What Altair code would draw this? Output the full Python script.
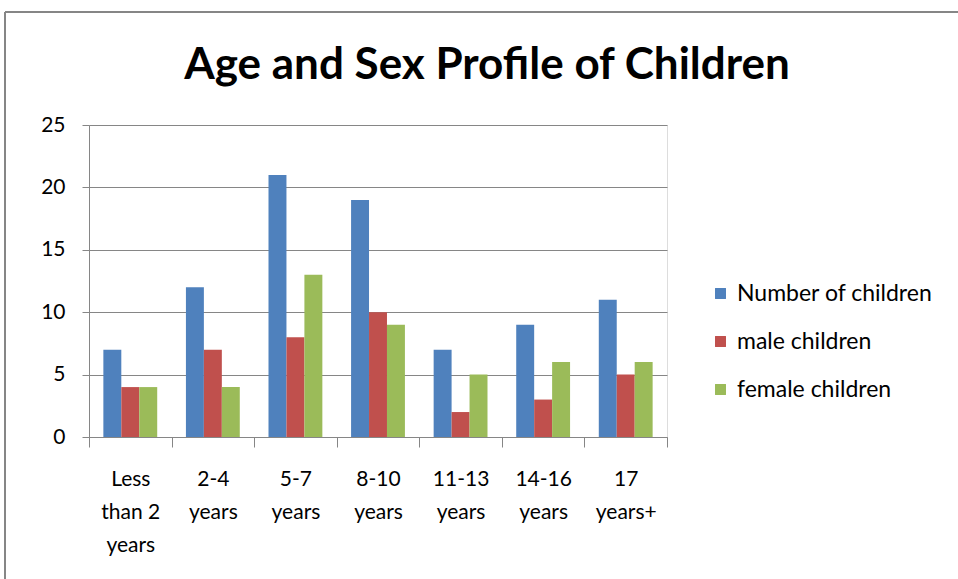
import altair as alt
import pandas as pd

categories = ["Less\nthan 2\nyears", "2-4\nyears", "5-7\nyears", "8-10\nyears",
              "11-13\nyears", "14-16\nyears", "17\nyears+"]
series = ["Number of children", "male children", "female children"]
number_of_children = [7, 12, 21, 19, 7, 9, 11]
male_children = [4, 7, 8, 10, 2, 3, 5]
female_children = [4, 4, 13, 9, 5, 6, 6]
colors = ["#4F81BD", "#C0504D", "#9BBB59"]
y_ticks = [0, 5, 10, 15, 20, 25]
title_text = "Age and Sex Profile of Children"

rows = []
for vals, s in zip([number_of_children, male_children, female_children], series):
    for c, v in zip(categories, vals):
        rows.append({"age": c, "series": s, "value": v})
df = pd.DataFrame(rows)

FONT = "Lato"
GRAY = "#868686"

bars = alt.Chart(df).mark_bar().encode(
    x=alt.X("age:N", sort=categories, title=None,
            scale=alt.Scale(paddingInner=0, paddingOuter=0),
            axis=alt.Axis(labelExpr="split(datum.label, '\\n')", labelAngle=0,
                          labelFont=FONT, labelFontSize=21, labelColor="#000",
                          labelLineHeight=33, labelPadding=21, labelBaseline="top",
                          tickBand="extent", tickSize=10, tickColor=GRAY,
                          domainColor=GRAY, grid=False)),
    xOffset=alt.XOffset("series:N", sort=series,
                        scale=alt.Scale(paddingInner=0, paddingOuter=0.8)),
    y=alt.Y("value:Q", title=None,
            scale=alt.Scale(domain=[0, 25], nice=False),
            axis=alt.Axis(values=y_ticks, grid=True, gridColor=GRAY, gridWidth=1,
                          domainColor=GRAY, tickColor=GRAY, tickSize=7,
                          labelFont=FONT, labelFontSize=21, labelColor="#000",
                          labelPadding=17)),
    color=alt.Color("series:N", sort=series,
                    scale=alt.Scale(domain=series, range=colors),
                    legend=alt.Legend(title=None, orient="none", legendX=620, legendY=157,
                                      symbolType="square", symbolSize=120,
                                      symbolStrokeWidth=0, labelFont=FONT,
                                      labelFontSize=23, labelColor="#000",
                                      labelLimit=0, labelOffset=5, rowPadding=24)),
)

title_df = pd.DataFrame({"t": [title_text]})
title = alt.Chart(title_df).mark_text(font=FONT, fontSize=44, fontWeight="bold",
                                      color="#000", align="center",
                                      baseline="middle").encode(
    text="t:N", x=alt.value(398), y=alt.value(-59))

border_top = alt.Chart(title_df).mark_rule(color=GRAY, strokeWidth=2).encode(
    x=alt.value(-84), x2=alt.value(900), y=alt.value(-113))
border_left = alt.Chart(title_df).mark_rule(color=GRAY, strokeWidth=2).encode(
    x=alt.value(-84), y=alt.value(-113), y2=alt.value(600))

chart = alt.layer(bars, title, border_top, border_left).properties(
    width=578, height=312,
    autosize=alt.AutoSizeParams(type="none"),
    padding={"left": 89, "top": 125, "right": 291, "bottom": 142},
).configure_view(stroke=None).configure(background="white")

chart.save("out.html", embed_options={"renderer": "svg", "actions": False})
